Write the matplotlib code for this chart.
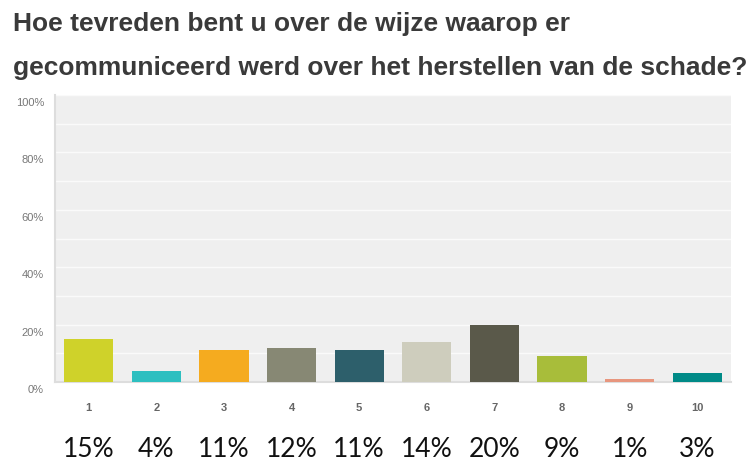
import matplotlib
matplotlib.use("Agg")
import matplotlib.pyplot as plt

title_lines = ["Hoe tevreden bent u over de wijze waarop er",
               "gecommuniceerd werd over het herstellen van de schade?"]
categories = ["1", "2", "3", "4", "5", "6", "7", "8", "9", "10"]
values = [15, 4, 11, 12, 11, 14, 20, 9, 1, 3]
labels = ["15%", "4%", "11%", "12%", "11%", "14%", "20%", "9%", "1%", "3%"]
colors = ["#cfd22a", "#2dbfc0", "#f5ab1f", "#878874", "#2d5f6b",
          "#cecdbd", "#5a594a", "#a8bd3a", "#e8967e", "#008a87"]
yticks = [0, 20, 40, 60, 80, 100]

fig = plt.figure(figsize=(7.56, 4.63), dpi=100)
ax = fig.add_axes([55/756, 1-382/463, 676/756, 287/463])
ax.set_facecolor("#efefef")

x = list(range(1, len(categories) + 1))
ax.bar(x, values, width=0.725, color=colors, zorder=3)
ax.set_xlim(0.5, len(categories) + 0.5)
ax.set_ylim(0, 100)

for g in range(10, 101, 10):
    ax.axhline(g, color="#fafafa", lw=1.0, zorder=1)

for s in ["top", "right"]:
    ax.spines[s].set_visible(False)
ax.spines["left"].set_color("#dddddd")
ax.spines["bottom"].set_color("#dddddd")
ax.spines["left"].set_linewidth(1.5)
ax.spines["bottom"].set_linewidth(1.5)

ax.set_yticks(yticks)
ax.set_yticklabels([])
ax.tick_params(axis="y", length=0)
for t in yticks:
    ax.annotate(f"{t}%", xy=(0, t), xycoords=("axes fraction", "data"),
                xytext=(-11, -8), textcoords="offset pixels",
                ha="right", va="center", fontsize=8, color="#777777",
                family="Liberation Sans", annotation_clip=False)

ax.set_xticks(x)
ax.set_xticklabels(categories, fontsize=8, color="#666666",
                   fontweight="bold", family="Liberation Sans")
ax.tick_params(axis="x", length=0, pad=15)

for xi, lab in zip(x, labels):
    ax.annotate(lab, xy=(xi, 0), xycoords=("data", "axes fraction"),
                xytext=(0, -75), textcoords="offset pixels",
                ha="center", va="baseline", fontsize=19, color="#111111",
                family=["Lato", "DejaVu Sans"], annotation_clip=False)

fig.text(13/756, 1-31/463, title_lines[0], fontsize=19, fontweight="bold",
         color="#3a3a3a", family="Liberation Sans", va="baseline", ha="left")
fig.text(13/756, 1-75/463, title_lines[1], fontsize=19, fontweight="bold",
         color="#3a3a3a", family="Liberation Sans", va="baseline", ha="left")

fig.savefig("out.png", dpi=100, facecolor="white")
